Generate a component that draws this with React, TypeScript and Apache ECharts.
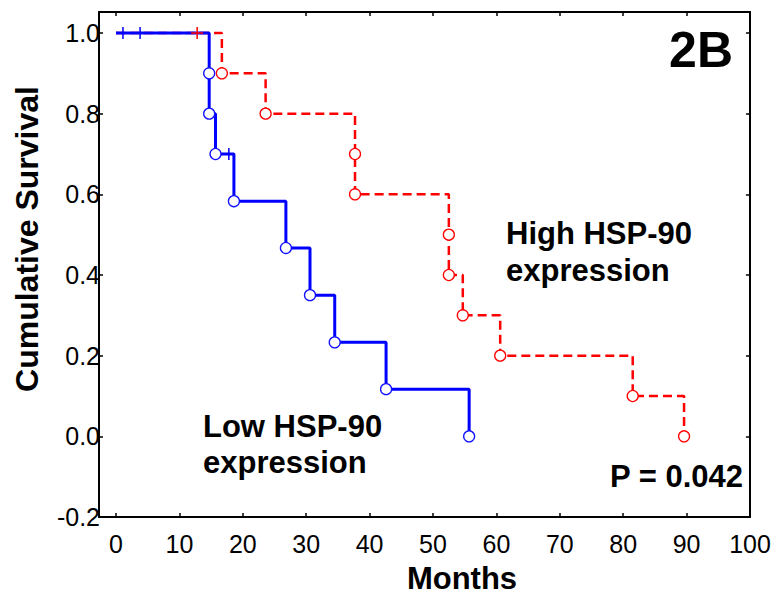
import React, { useEffect, useRef } from "react";
import * as echarts from "echarts";

// Low HSP-90 expression (blue, solid): event times (months) and survival after each event
const lowMonths = [0, 14.7, 14.7, 15.7, 18.6, 26.8, 30.6, 34.5, 42.6, 55.7];
const lowSurvival = [1.0, 0.9, 0.8, 0.7, 0.583, 0.467, 0.35, 0.233, 0.117, 0.0];
const lowCensorMonths = [1.1, 3.8, 17.8];
const lowCensorSurvival = [1.0, 1.0, 0.7];

// High HSP-90 expression (red, dashed)
const highMonths = [0, 16.7, 23.6, 37.7, 37.7, 52.5, 52.5, 54.7, 60.6, 81.5, 89.6];
const highSurvival = [1.0, 0.9, 0.8, 0.7, 0.6, 0.5, 0.4, 0.3, 0.2, 0.1, 0.0];
const highCensorMonths = [12.8];
const highCensorSurvival = [1.0];

const xTicks = [0, 10, 20, 30, 40, 50, 60, 70, 80, 90, 100];
const yTicks = [-0.2, 0.0, 0.2, 0.4, 0.6, 0.8, 1.0];

const FONT = '"Liberation Sans", Arial, Helvetica, sans-serif';
const PLUS = "path://M0,5L10,5M5,0L5,10";

const zip = (xs: number[], ys: number[]) => xs.map((x, i) => [x, ys[i]]);

export default function App() {
  const ref = useRef<HTMLDivElement>(null);
  useEffect(() => {
    if (!ref.current) return;
    const chart = echarts.init(ref.current, null, { renderer: "svg" });
    const yFmt = (v: number) => (yTicks.some((t) => Math.abs(t - v) < 1e-6) ? v.toFixed(1) : "");
    const axisLine = { show: true, onZero: false, lineStyle: { color: "#000", width: 2 } };
    const tickStyle = { color: "#000", width: 1.5 };
    const xTick = { show: true, inside: true, length: 4, lineStyle: tickStyle, customValues: xTicks };
    const yTick = { show: true, inside: true, length: 4, lineStyle: tickStyle };
    const xMin = -2.68;
    const xMax = 100;
    const yMin = -0.2;
    const yMax = 1.052;
    chart.setOption({
      animation: false,
      backgroundColor: "#fff",
      grid: { left: 99, right: 30, top: 12, bottom: 79, containLabel: false },
      xAxis: [
        {
          type: "value", position: "bottom", min: xMin, max: xMax,
          axisLine, axisTick: xTick, splitLine: { show: false },
          axisLabel: { customValues: xTicks, formatter: (v: number) => String(v), fontSize: 25, color: "#000", fontFamily: FONT, margin: 14 },
        },
        {
          type: "value", position: "top", min: xMin, max: xMax,
          axisLine, axisTick: xTick, splitLine: { show: false }, axisLabel: { show: false },
        },
      ],
      yAxis: [
        {
          type: "value", position: "left", min: yMin, max: yMax, interval: 0.2,
          axisLine, axisTick: yTick, splitLine: { show: false },
          axisLabel: { formatter: yFmt, fontSize: 25, color: "#000", fontFamily: FONT, margin: -1, padding: [12, 0, 0, 0], showMaxLabel: false },
        },
        {
          type: "value", position: "right", min: yMin, max: yMax, interval: 0.2,
          axisLine, axisTick: yTick, splitLine: { show: false }, axisLabel: { show: false },
        },
      ],
      series: [
        {
          type: "line", name: "High", step: "end", data: zip(highMonths, highSurvival),
          showSymbol: false, symbol: "none",
          lineStyle: { color: "#ff0000", width: 2.5, type: [9, 5] }, z: 2,
        },
        {
          type: "line", name: "Low", step: "end", data: zip(lowMonths, lowSurvival),
          showSymbol: false, symbol: "none",
          lineStyle: { color: "#0000ff", width: 3 }, z: 3,
        },
        {
          type: "scatter", data: zip(highMonths.slice(1), highSurvival.slice(1)),
          symbol: "circle", symbolSize: 11,
          itemStyle: { color: "#fff", borderColor: "#ff0000", borderWidth: 1.3, opacity: 1 }, z: 4,
        },
        {
          type: "scatter", data: zip(lowMonths.slice(1), lowSurvival.slice(1)),
          symbol: "circle", symbolSize: 11,
          itemStyle: { color: "#fff", borderColor: "#1010ff", borderWidth: 1.3, opacity: 1 }, z: 4,
        },
        {
          type: "scatter", data: zip(highCensorMonths, highCensorSurvival),
          symbol: PLUS, symbolSize: 12,
          itemStyle: { color: "none", borderColor: "#ff0000", borderWidth: 1.5, opacity: 1 }, z: 5,
        },
        {
          type: "scatter", data: zip(lowCensorMonths, lowCensorSurvival),
          symbol: PLUS, symbolSize: 12,
          itemStyle: { color: "none", borderColor: "#0000ff", borderWidth: 1.5, opacity: 1 }, z: 5,
        },
      ],
      graphic: [
        {
          type: "text", x: 462, y: 578,
          style: { text: "Months", fontSize: 31, fontWeight: "bold", fontFamily: FONT, fill: "#000", align: "center", verticalAlign: "middle" },
        },
        {
          type: "text", x: 27, y: 239, rotation: Math.PI / 2,
          style: { text: "Cumulative Survival", fontSize: 32, fontWeight: "bold", fontFamily: FONT, fill: "#000", align: "center", verticalAlign: "middle" },
        },
        {
          type: "text", x: 733, y: 50,
          style: { text: "2B", fontSize: 50, fontWeight: "bold", fontFamily: FONT, fill: "#000", align: "right", verticalAlign: "middle" },
        },
        {
          type: "text", x: 743, y: 476,
          style: { text: "P = 0.042", fontSize: 31, fontWeight: "bold", fontFamily: FONT, fill: "#000", align: "right", verticalAlign: "middle" },
        },
        {
          type: "text", x: 506, y: 252,
          style: { text: "High HSP-90\nexpression", fontSize: 31, lineHeight: 37, fontWeight: "bold", fontFamily: FONT, fill: "#000", align: "left", verticalAlign: "middle" },
        },
        {
          type: "text", x: 203, y: 444,
          style: { text: "Low HSP-90\nexpression", fontSize: 31, lineHeight: 36, fontWeight: "bold", fontFamily: FONT, fill: "#000", align: "left", verticalAlign: "middle" },
        },
      ],
    });
    return () => chart.dispose();
  }, []);
  return <div ref={ref} style={{ position: "absolute", left: 0, top: 0, width: 780, height: 596 }} />;
}
